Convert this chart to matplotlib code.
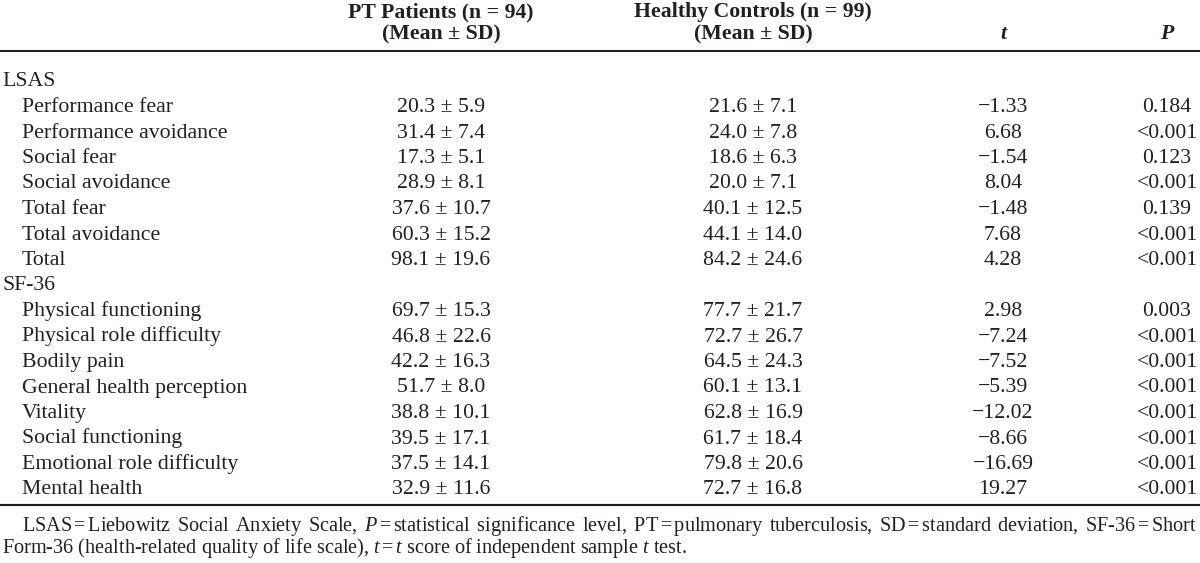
import matplotlib
matplotlib.use('Agg')
import matplotlib.pyplot as plt

plt.rcParams['font.family'] = ['Liberation Serif', 'DejaVu Serif']
plt.rcParams['mathtext.fontset'] = 'custom'
plt.rcParams['mathtext.rm'] = 'Liberation Serif'
plt.rcParams['mathtext.it'] = 'Liberation Serif:italic'
plt.rcParams['mathtext.bf'] = 'Liberation Serif:bold'

# table data
sections = ['LSAS', 'SF-36']
lsas_items = ['Performance fear', 'Performance avoidance', 'Social fear',
              'Social avoidance', 'Total fear', 'Total avoidance', 'Total']
sf36_items = ['Physical functioning', 'Physical role difficulty', 'Bodily pain',
              'General health perception', 'Vitality', 'Social functioning',
              'Emotional role difficulty', 'Mental health']
pt_mean = [20.3, 31.4, 17.3, 28.9, 37.6, 60.3, 98.1,
           69.7, 46.8, 42.2, 51.7, 38.8, 39.5, 37.5, 32.9]
pt_sd = [5.9, 7.4, 5.1, 8.1, 10.7, 15.2, 19.6,
         15.3, 22.6, 16.3, 8.0, 10.1, 17.1, 14.1, 11.6]
hc_mean = [21.6, 24.0, 18.6, 20.0, 40.1, 44.1, 84.2,
           77.7, 72.7, 64.5, 60.1, 62.8, 61.7, 79.8, 72.7]
hc_sd = [7.1, 7.8, 6.3, 7.1, 12.5, 14.0, 24.6,
         21.7, 26.7, 24.3, 13.1, 16.9, 18.4, 20.6, 16.8]
t_vals = [-1.33, 6.68, -1.54, 8.04, -1.48, 7.68, 4.28,
          2.98, -7.24, -7.52, -5.39, -12.02, -8.66, -16.69, 19.27]
p_vals = ['0.184', '<0.001', '0.123', '<0.001', '0.139', '<0.001', '<0.001',
          '0.003', '<0.001', '<0.001', '<0.001', '<0.001', '<0.001', '<0.001', '<0.001']

# footnote words; the gaps between them are stretched to justify the first line
eq = r'$\,$=$\,$'
note_line1 = ['LSAS' + eq + 'Liebowitz', 'Social', 'Anxiety', 'Scale,',
              r'$P\,$=$\,$statistical', 'significance', 'level,',
              'PT' + eq + 'pulmonary', 'tuberculosis,', 'SD' + eq + 'standard',
              'deviation,', 'SF-36' + eq + 'Short']
note_line2 = ('Form-36 (health-related quality of life scale), ' + r'$t\,$=$\,t$'
              + ' score of independent sample $t$ test.')

ink = '#231f20'
body = 15.7
small = 14.6

fig = plt.figure(figsize=(12, 5.63), dpi=100)
ax = fig.add_axes([0, 0, 1, 1])
ax.set_xlim(0, 1200)
ax.set_ylim(563, 0)
ax.axis('off')

col_pt, col_hc, col_t, col_p = 441, 753, 1003, 1167

# header
head = dict(va='baseline', fontsize=body, fontweight='bold', color=ink)
ax.text(col_pt, 17, 'PT Patients (n = 94)', ha='center', **head)
ax.text(col_pt, 39, '(Mean ± SD)', ha='center', **head)
ax.text(col_hc, 17, 'Healthy Controls (n = 99)', ha='center', **head)
ax.text(col_hc, 39, '(Mean ± SD)', ha='center', **head)
ax.text(col_t, 39, 't', ha='center', fontstyle='italic', **head)
ax.text(col_p, 39, 'P', ha='center', fontstyle='italic', **head)

ax.axhline(51, color=ink, lw=1.5)

# body rows
y0, step = 86.5, 25.5
row = 0
k = 0
cell = dict(va='baseline', fontsize=body, color=ink)
for name, items in zip(sections, [lsas_items, sf36_items]):
    ax.text(2, y0 + row * step, name, **cell)
    row += 1
    for item in items:
        y = y0 + row * step
        ax.text(22, y, item, **cell)
        ax.text(col_pt, y, f'{pt_mean[k]:.1f} ± {pt_sd[k]:.1f}', ha='center', **cell)
        ax.text(col_hc, y, f'{hc_mean[k]:.1f} ± {hc_sd[k]:.1f}', ha='center', **cell)
        ax.text(col_t, y, f'{t_vals[k]:.2f}'.replace('-', '\u2212'), ha='center', **cell)
        ax.text(col_p, y, p_vals[k], ha='center', **cell)
        row += 1
        k += 1

ax.axhline(505, color=ink, lw=1.5)

# footnote: first line justified from x=22 to x=1197 as one mathtext string
renderer = fig.canvas.get_renderer()
em = small * fig.dpi / 72
left, right = 22, 1197
n_gaps = len(note_line1) - 1


def joined(gap_em):
    return (r'$\hspace{%.3f}$' % gap_em).join(note_line1)


line1 = ax.text(left, 531, joined(0.5), va='baseline', fontsize=small, color=ink)
g = 0.5
for _ in range(3):
    w = line1.get_window_extent(renderer=renderer).width
    g += (right - left - w) / n_gaps / em
    line1.set_text(joined(g))
ax.text(2, 553, note_line2, va='baseline', fontsize=small, color=ink)

fig.savefig('out.png', dpi=100)
